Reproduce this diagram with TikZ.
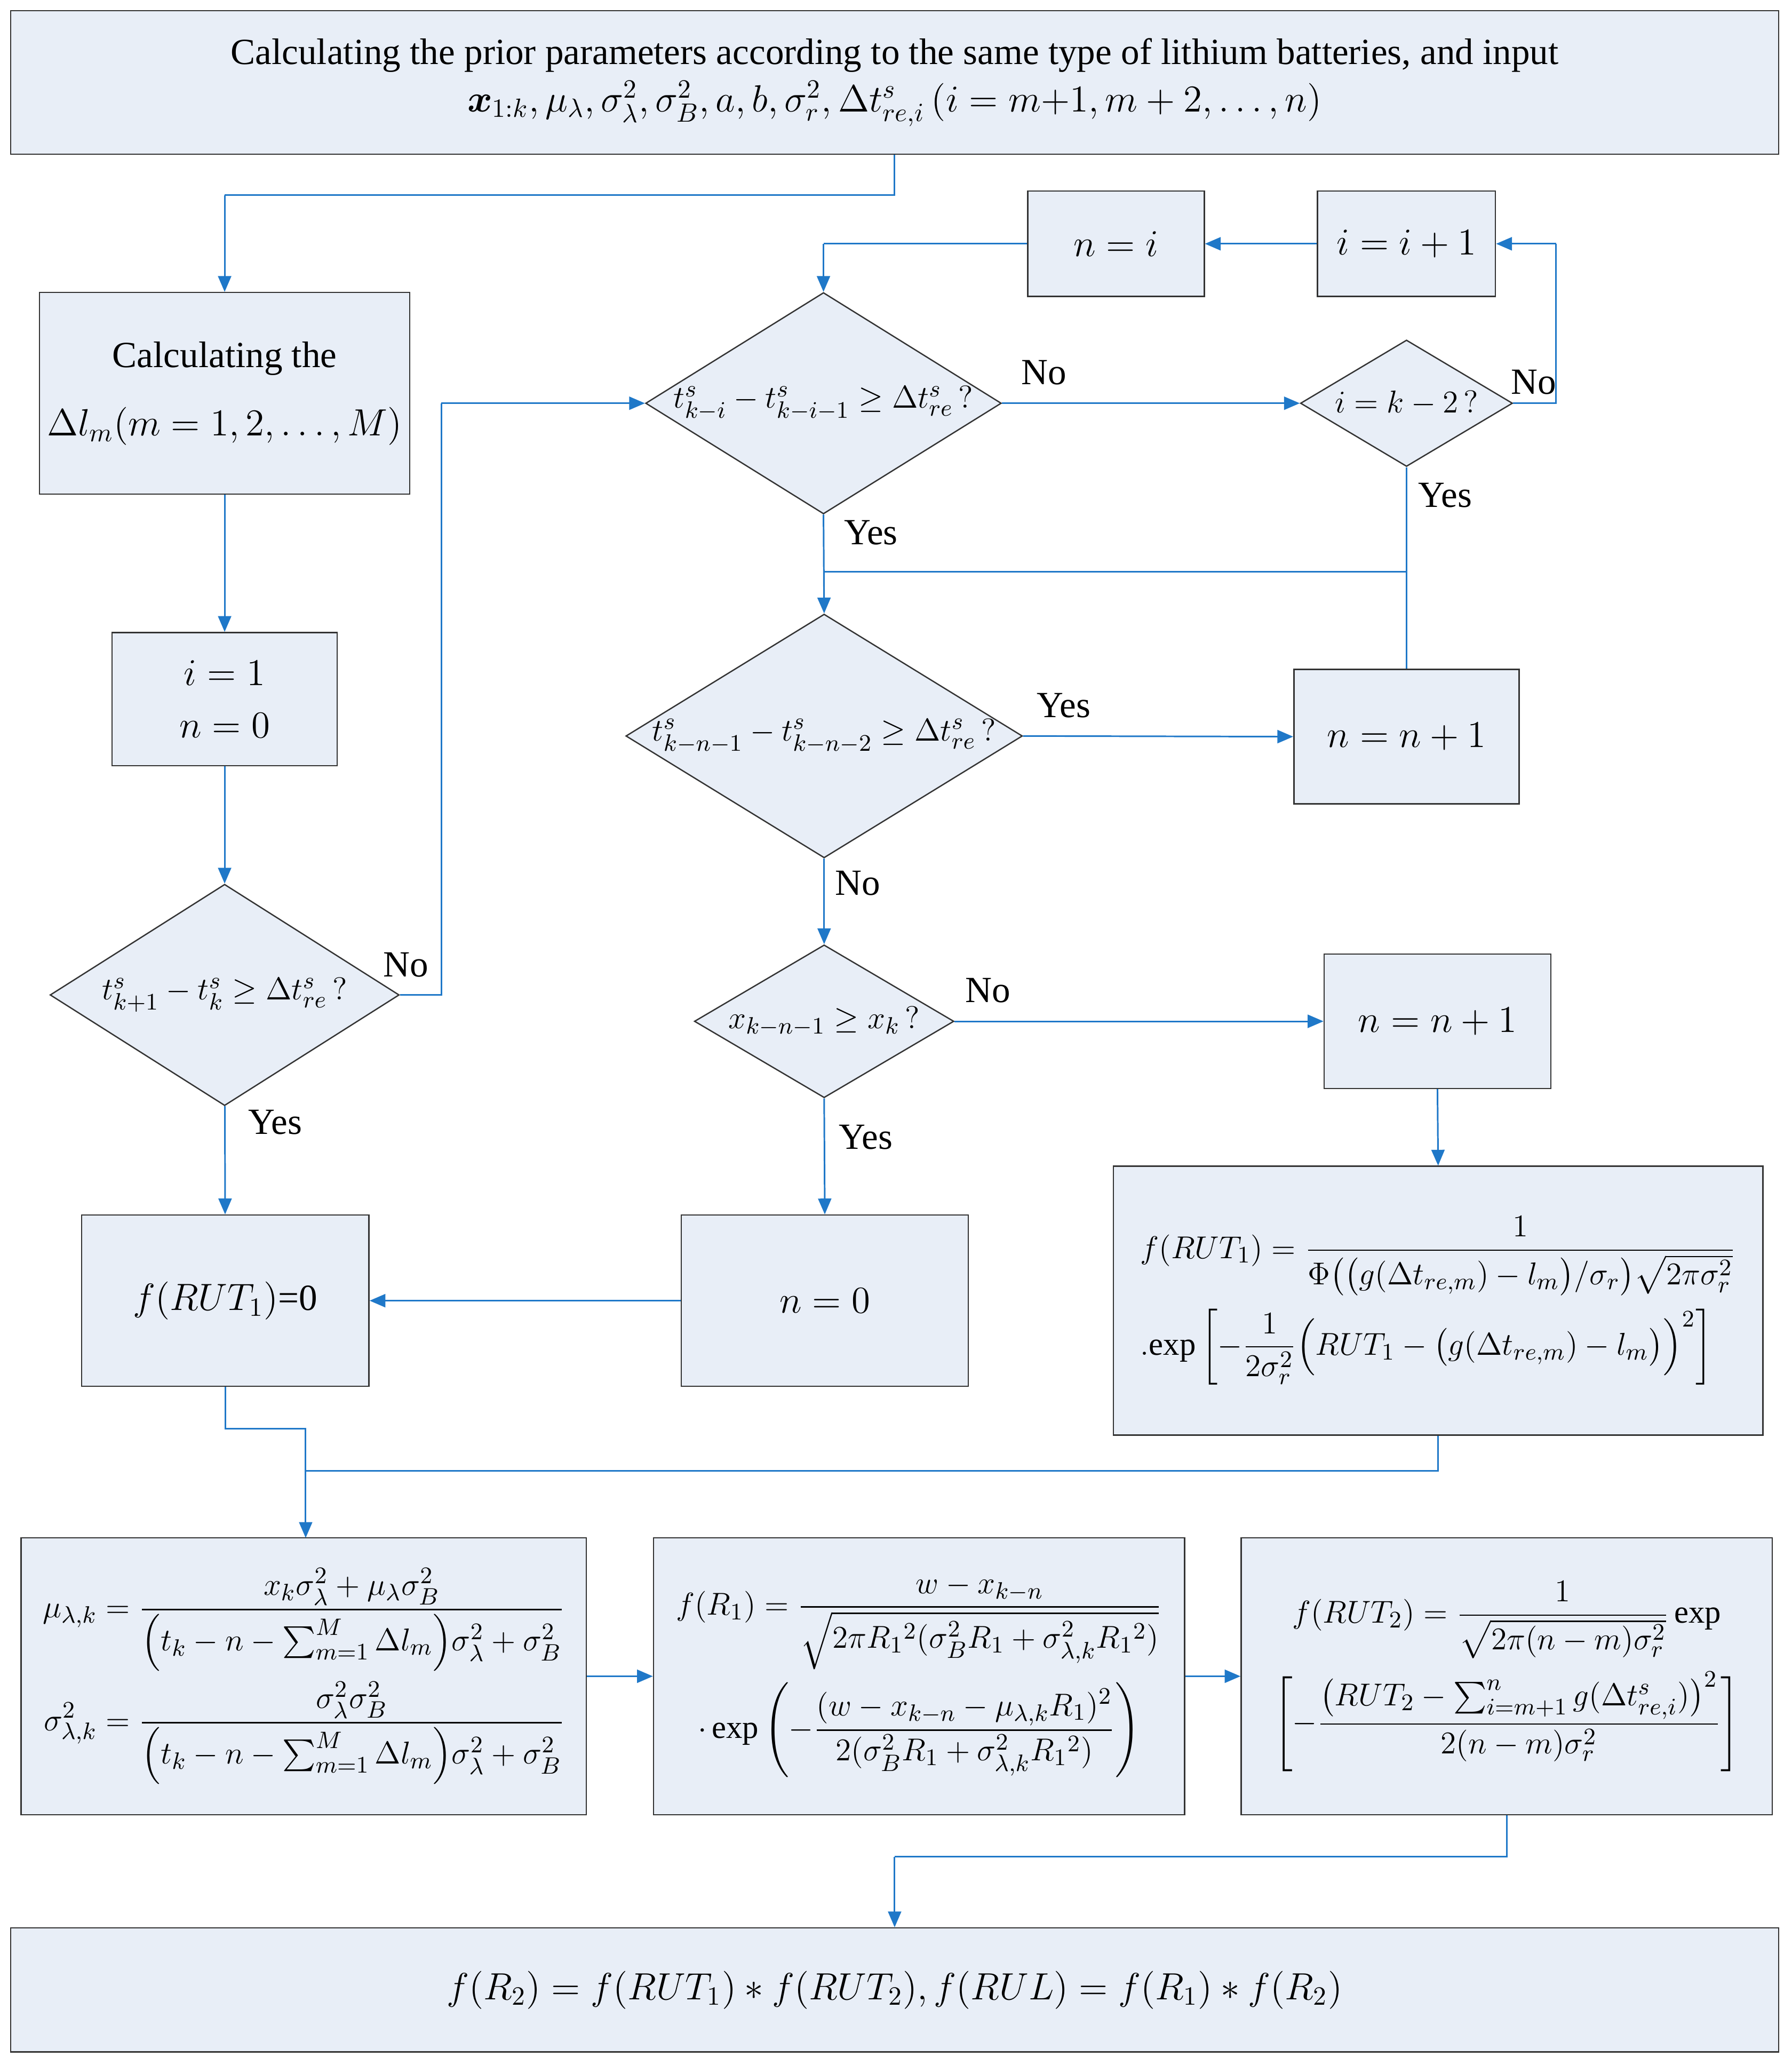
\documentclass[tikz,border=0pt]{standalone}
\usepackage{amsmath}
\usepackage{fontspec}
\setmainfont{Liberation Serif}
\usetikzlibrary{shapes.geometric,arrows.meta}
\definecolor{fillc}{HTML}{E8EEF7}
\definecolor{arr}{HTML}{1F78C8}
\begin{document}
\fontsize{14}{17}\selectfont
\begin{tikzpicture}[x=0.5pt,y=-0.5pt,
  box/.style={draw=black!80,fill=fillc,line width=0.5pt,inner sep=2pt,align=center,font=\fontsize{14}{20}\selectfont},
  fbox/.style={box,inner sep=0pt,font=\fontsize{12.3}{16}\selectfont},
  dia/.style={draw=black!80,fill=fillc,line width=0.5pt,diamond,inner sep=0pt},
  dt/.style={font=\fontsize{13}{16}\selectfont,inner sep=0pt},
  ar/.style={draw=arr,line width=0.6pt,-{Triangle[length=6pt,width=5pt]}},
  ln/.style={draw=arr,line width=0.6pt},
  lb/.style={font=\fontsize{14}{17}\selectfont}]
\useasboundingbox (0,0) rectangle (1360,1567);
% nodes
\node[box,minimum width=671pt,minimum height=54.5pt] (top) at (679,62.5) {Calculating the prior parameters according to the same type of lithium batteries, and input\\[-2pt]
$\boldsymbol{x}_{1:k},\mu_\lambda,\sigma_\lambda^2,\sigma_B^2,a,b,\sigma_r^2,\Delta t^s_{re,i}\,(i=m{+}1,m+2,\dots,n)$};
\node[box,minimum width=140.5pt,minimum height=76.5pt] (calc) at (170.5,298.5) {Calculating the\\[6pt] $\Delta l_m(m=1,2,\dots,M)$};
\node[box,minimum width=85.5pt,minimum height=50.5pt] (init) at (170.5,530.5) {$i=1$\\ $n=0$};
\node[dia,minimum width=132.5pt,minimum height=84pt] (d1) at (170.5,755) {};
\node[dt] (d1t) at (d1) {$t^s_{k+1}-t^s_k\ge\Delta t^s_{re}\,?$};
\node[box,minimum width=109pt,minimum height=65pt] (f1) at (171,987) {$f(RUT_1)$=0};
\node[dia,minimum width=135pt,minimum height=84pt] (d2) at (625,306) {};
\node[dt] (d2t) at (d2) {$t^s_{k-i}-t^s_{k-i-1}\ge\Delta t^s_{re}\,?$};
\node[box,minimum width=67pt,minimum height=40pt] (ni) at (847,185) {$n=i$};
\node[box,minimum width=67.5pt,minimum height=40pt] (ii) at (1067.5,185) {$i=i+1$};
\node[dia,minimum width=80.5pt,minimum height=48pt] (d3) at (1067.5,306) {};
\node[dt] (d3t) at (d3) {$i=k-2\,?$};
\node[dia,minimum width=150.5pt,minimum height=92.5pt] (d4) at (625.5,558.5) {};
\node[dt] (d4t) at (d4) {$t^s_{k-n-1}-t^s_{k-n-2}\ge\Delta t^s_{re}\,?$};
\node[box,minimum width=85.5pt,minimum height=51pt] (na) at (1067.5,559) {$n=n+1$};
\node[dia,minimum width=98.5pt,minimum height=58pt] (d5) at (625.5,775) {};
\node[dt] (d5t) at (d5) {$x_{k-n-1}\ge x_k\,?$};
\node[box,minimum width=86pt,minimum height=51pt] (nb) at (1091,775) {$n=n+1$};
\node[box,minimum width=109pt,minimum height=65pt] (n0) at (626,987) {$n=0$};
\node[fbox,minimum width=246.5pt,minimum height=102pt,align=left] (fr1b) at (1091.5,987) {$f(RUT_1)=\dfrac{1}{\Phi\big(\big(g(\Delta t_{re,m})-l_m\big)/\sigma_r\big)\sqrt{2\pi\sigma_r^2}}$\\[4pt]
$.\!\exp\left[-\dfrac{1}{2\sigma_r^2}\Big(RUT_1-\big(g(\Delta t_{re,m})-l_m\big)\Big)^2\right]$};
\node[fbox,minimum width=214.5pt,minimum height=105pt] (mu) at (230.5,1272) {$\begin{aligned}\mu_{\lambda,k}&=\dfrac{x_k\sigma_\lambda^2+\mu_\lambda\sigma_B^2}{\Big(t_k-n-\sum_{m=1}^M\Delta l_m\Big)\sigma_\lambda^2+\sigma_B^2}\\
\sigma^2_{\lambda,k}&=\dfrac{\sigma_\lambda^2\sigma_B^2}{\Big(t_k-n-\sum_{m=1}^M\Delta l_m\Big)\sigma_\lambda^2+\sigma_B^2}\end{aligned}$};
\node[fbox,minimum width=201.5pt,minimum height=105pt] (fR1) at (697.5,1272) {$f(R_1)=\dfrac{w-x_{k-n}}{\sqrt{2\pi R_1{}^2(\sigma_B^2R_1+\sigma^2_{\lambda,k}R_1{}^2)}}$\\[4pt]
$\cdot\exp\left(-\dfrac{(w-x_{k-n}-\mu_{\lambda,k}R_1)^2}{2(\sigma_B^2R_1+\sigma_{\lambda,k}^2R_1{}^2)}\right)$};
\node[fbox,minimum width=201.5pt,minimum height=105pt] (fR2) at (1143.5,1272) {$f(RUT_2)=\dfrac{1}{\sqrt{2\pi(n-m)\sigma_r^2}}\exp$\\[4pt]
$\left[-\dfrac{\big(RUT_2-\sum_{i=m+1}^n g(\Delta t^s_{re,i})\big)^2}{2(n-m)\sigma_r^2}\right]$};
\node[box,minimum width=671pt,minimum height=47pt] (bot) at (679,1510) {$f(R_2)=f(RUT_1)*f(RUT_2),f(RUL)=f(R_1)*f(R_2)$};
% coordinates
\coordinate (c1) at (679,148); \coordinate (c2) at (170.5,148);
\coordinate (c3) at (335,755); \coordinate (c4) at (335,306);
\coordinate (c5) at (1181,306); \coordinate (c6) at (1181,185);
\coordinate (c7) at (625,185);
\coordinate (j1) at (625,434); \coordinate (j2) at (1067.5,434);
\coordinate (e1) at (171,1084); \coordinate (e2) at (232,1084); \coordinate (e3) at (232,1116);
\coordinate (e4) at (1091.5,1116); \coordinate (mut) at (232,1167);
\coordinate (g1) at (1143.5,1409); \coordinate (g2) at (679,1409);
% edges
\draw[ln] (top.south) -- (c1) -- (c2); \draw[ar] (c2) -- (calc.north);
\draw[ar] (calc) -- (init);
\draw[ar] (init) -- (d1);
\draw[ar] (d1) -- (f1) node[lb,pos=0.15,right=4pt] {Yes};
\draw[ln] (d1.east) -- (c3) -- (c4); \draw[ar] (c4) -- (d2.west);
\node[lb] at (308,732) {No};
\draw[ar] (d2.east) -- (d3.west) node[lb,pos=0.14,above=2pt] {No};
\draw[ln] (d3.east) -- (c5) -- (c6); \draw[ar] (c6) -- (ii.east);
\node[lb] at (1164,290) {No};
\draw[ar] (ii) -- (ni);
\draw[ln] (ni.west) -- (c7); \draw[ar] (c7) -- (d2.north);
\draw[ar] (d2.south) -- (d4.north);
\node[lb] at (661,404) {Yes};
\draw[ln] (d3.south) -- (na.north);
\draw[ln] (j2) -- (j1);
\node[lb] at (1097,376) {Yes};
\draw[ar] (d4.east) -- (na.west) node[lb,pos=0.15,above=2pt] {Yes};
\draw[ar] (d4.south) -- (d5.north);
\node[lb] at (651,670) {No};
\draw[ar] (d5.east) -- (nb.west) node[lb,pos=0.09,above=2pt] {No};
\draw[ar] (d5.south) -- (n0.north);
\node[lb] at (657,863) {Yes};
\draw[ar] (n0.west) -- (f1.east);
\draw[ar] (nb.south) -- (fr1b.north);
\draw[ln] (f1.south) -- (e1) -- (e2) -- (e3);
\draw[ln] (fr1b.south) -- (e4) -- (e3);
\draw[ar] (e3) -- (mut);
\draw[ar] (mu.east) -- (fR1.west);
\draw[ar] (fR1.east) -- (fR2.west);
\draw[ln] (fR2.south) -- (g1) -- (g2); \draw[ar] (g2) -- (bot.north);
\end{tikzpicture}
\end{document}
